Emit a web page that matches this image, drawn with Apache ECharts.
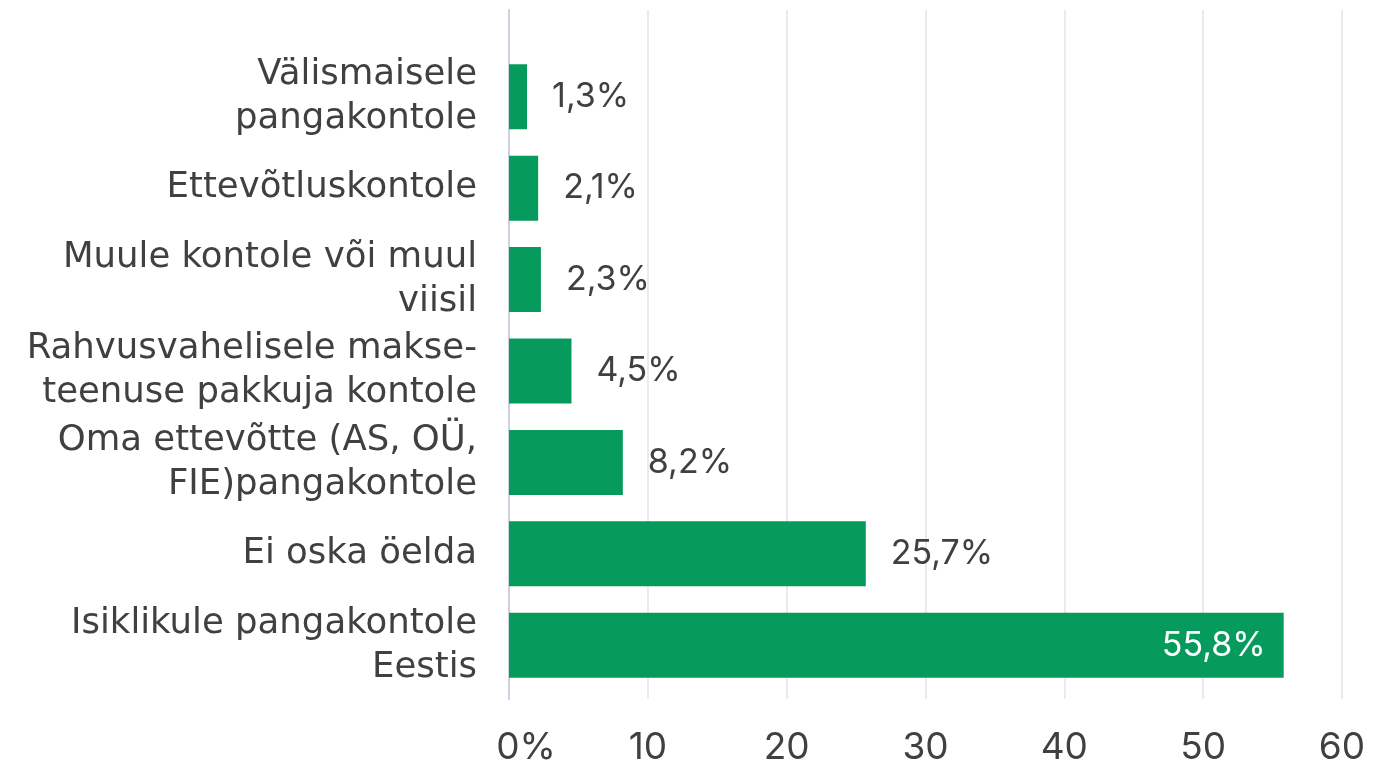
<!DOCTYPE html>
<html lang="et">
<head>
<meta charset="UTF-8">
<title>Kontod</title>
<script src="https://cdn.jsdelivr.net/npm/echarts@6/dist/echarts.min.js"></script>
<style>
  html, body { margin: 0; padding: 0; background: #fff; }
  #main { width: 1373px; height: 767px; }
</style>
</head>
<body>
<div id="main"></div>
<script type="text/javascript">
    // andmed ülevalt alla
    var categories = [
        'Välismaisele\npangakontole',
        'Ettevõtluskontole',
        'Muule kontole või muul\nviisil',
        'Rahvusvahelisele makse-\nteenuse pakkuja kontole',
        'Oma ettevõtte (AS, OÜ,\nFIE)pangakontole',
        'Ei oska öelda',
        'Isiklikule pangakontole\nEestis'
    ];
    var values = [1.3, 2.1, 2.3, 4.5, 8.2, 25.7, 55.8];
    var xTicks = ['0%', '10', '20', '30', '40', '50', '60'];

    var font = 'Inter, "Noto Sans", sans-serif';
    var catFont = '"DejaVu Sans", sans-serif';
    var green = '#069b5c';

    function fmt(v) {
        return v.toFixed(1).replace('.', ',') + '%';
    }

    var barData = values.map(function (v) {
        var item = { value: v };
        if (v > 40) {
            item.label = { position: 'insideRight', distance: 18, color: '#fff' };
        }
        return item;
    });

    var myChart = echarts.init(document.getElementById('main'));

    var option = {
        animation: false,
        grid: [
            { left: 509, right: 31, top: 10, bottom: 68 },
            { left: 509, right: 31, top: 51, bottom: 76 }
        ],
        xAxis: [{
            gridIndex: 0,
            type: 'value',
            min: 0,
            max: 60,
            interval: 10,
            axisLine: { show: false },
            axisTick: { show: false },
            splitLine: { lineStyle: { color: '#e4e4e8', width: 1.5 } },
            axisLabel: {
                margin: 30,
                fontFamily: font,
                fontSize: 37,
                color: '#404040',
                formatter: function (v) {
                    var t = xTicks[v / 10];
                    // zero stays on the tick, "%" hangs to the right
                    return v === 0 ? '{z|' + t + '}' : t;
                },
                rich: {
                    z: { padding: [0, 0, 0, 34], fontFamily: font, fontSize: 37, color: '#404040' }
                }
            }
        }, {
            gridIndex: 1,
            type: 'value',
            min: 0,
            max: 60,
            show: false
        }],
        yAxis: [{
            gridIndex: 0,
            type: 'value',
            min: 0,
            max: 1,
            axisLine: { show: true, lineStyle: { color: '#cdd1e0', width: 2 } },
            axisTick: { show: false },
            axisLabel: { show: false },
            splitLine: { show: false }
        }, {
            gridIndex: 1,
            type: 'category',
            inverse: true,
            data: categories,
            axisLine: { show: false },
            axisTick: { show: false },
            axisLabel: {
                margin: 32,
                fontFamily: catFont,
                fontSize: 35.5,
                lineHeight: 44,
                color: '#404040',
                align: 'right'
            }
        }],
        series: [{
            type: 'bar',
            xAxisIndex: 1,
            yAxisIndex: 1,
            barWidth: 65,
            data: barData,
            itemStyle: { color: green },
            label: {
                show: true,
                position: 'right',
                distance: 25,
                fontFamily: font,
                fontSize: 34,
                color: '#404040',
                formatter: function (p) { return fmt(p.value); }
            }
        }]
    };

    myChart.setOption(option);
</script>
</body>
</html>
